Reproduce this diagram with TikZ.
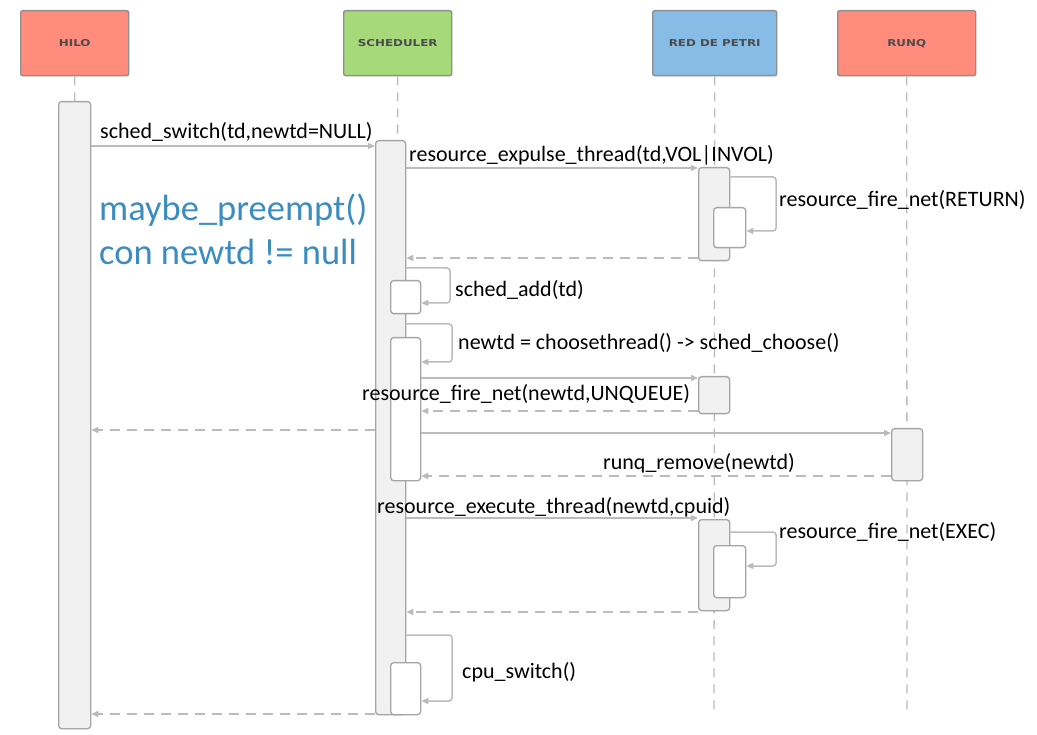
\documentclass[tikz,border=0pt]{standalone}
\usepackage{fontspec}
\setmainfont{Carlito}
\newfontfamily\headfont[FakeStretch=1.25]{DejaVu Sans}
\usetikzlibrary{arrows.meta,calc}
\definecolor{salmon}{HTML}{FF8C7C}
\definecolor{grn}{HTML}{A5D97A}
\definecolor{blu}{HTML}{86BCE5}
\definecolor{actfill}{HTML}{F1F1F1}
\definecolor{linegray}{HTML}{BBBBBB}
\definecolor{bordergray}{HTML}{8F8F8F}
\definecolor{bigblue}{HTML}{3B8DC0}
\tikzset{
  x=1pt, y=-1pt,
  head/.style={draw=bordergray, line width=1.4pt, rounded corners=2pt, anchor=north west, inner sep=0pt, font=\headfont\bfseries\fontsize{9.5}{10}\selectfont, text=black!70},
  lifeline/.style={draw=linegray, line width=1.3pt, dash pattern=on 9pt off 7pt},
  actbox/.style={draw=bordergray!80, fill=actfill, line width=1.3pt, rounded corners=3pt, anchor=north west, inner sep=0pt, minimum width=31pt},
  subbox/.style={actbox, fill=white},
  tip/.style={-{Triangle[length=7pt,width=6pt]}},
  msg/.style={draw=linegray, line width=1.5pt, tip},
  ret/.style={draw=linegray, line width=1.5pt, tip, dash pattern=on 10pt off 7pt},
  self/.style={draw=linegray, line width=1.5pt, tip, rounded corners=3pt},
  lbl/.style={anchor=west, inner sep=0pt, font=\fontsize{22}{24}\selectfont, text=black},
  big/.style={anchor=west, inner sep=0pt, font=\fontsize{36.5}{40}\selectfont, text=bigblue},
}
\begin{document}
\begin{tikzpicture}
\useasboundingbox (0,0) rectangle (1037,735);
% headers
\node[head, fill=salmon, minimum width=108pt, minimum height=65pt] (hilo) at (20,10) {HILO};
\node[head, fill=grn, minimum width=108pt, minimum height=65pt] (sched) at (343,10) {SCHEDULER};
\node[head, fill=blu, minimum width=124pt, minimum height=65pt] (petri) at (652,10) {RED DE PETRI};
\node[head, fill=salmon, minimum width=138pt, minimum height=65pt] (runq) at (837,10) {RUNQ};
% lifelines
\coordinate (hend) at (74,710);
\coordinate (send) at (397,710);
\coordinate (pend) at (714,710);
\coordinate (rend) at (907,710);
\draw[lifeline] (hilo.south) -- (hend);
\draw[lifeline] (sched.south) -- (send);
\draw[lifeline] (petri.south) -- (pend);
\draw[lifeline] (runq.south) -- (rend);
% activations
\node[actbox, minimum width=32pt, minimum height=627pt] (hA) at (58,101) {};
\node[actbox, minimum width=30pt, minimum height=574pt] (sA) at (375,140) {};
\node[subbox, minimum width=30pt, minimum height=33pt] (sB1) at (390,280) {};
\node[subbox, minimum width=30pt, minimum height=143pt] (sB2) at (390,337) {};
\node[subbox, minimum width=30pt, minimum height=52pt] (sB3) at (390,662) {};
\node[actbox, minimum height=93pt] (pA1) at (698,167) {};
\node[subbox, minimum width=32pt, minimum height=40pt] (pN1) at (713,207) {};
\node[actbox, minimum height=37pt] (pA2) at (698,376) {};
\node[actbox, minimum height=91pt] (pA3) at (698,519) {};
\node[subbox, minimum width=32pt, minimum height=52pt] (pN3) at (713,545) {};
\node[actbox, minimum height=52pt] (rA) at (891,428) {};
% messages
\draw[msg] (hA.east |- 0,146) -- (sA.west |- 0,146);
\node[lbl] (l1) at (100,132) {sched\_switch(td,newtd=NULL)};
\draw[msg] (sA.east |- 0,168) -- (pA1.west |- 0,168);
\node[lbl] (l2) at (409,155) {resource\_expulse\_thread(td,VOL|INVOL)};
\draw[self] (pA1.east |- 0,177) -- (776,177) -- (776,231) -- (pN1.east |- 0,231);
\node[lbl] (l3) at (779,200) {resource\_fire\_net(RETURN)};
\draw[ret] (pA1.west |- 0,258) -- (sA.east |- 0,258);
\node[big] (b1) at (99,210) {maybe\_preempt()};
\node[big] (b2) at (99,252) {con newtd != null};
\draw[self] (sA.east |- 0,268) -- (450,268) -- (450,303) -- (sB1.east |- 0,303);
\node[lbl] (l4) at (455,290) {sched\_add(td)};
\draw[self] (sA.east |- 0,324) -- (452,324) -- (452,362) -- (sB2.east |- 0,362);
\node[lbl] (l5) at (458,343) {newtd = choosethread() -> sched\_choose()};
\draw[msg] (sB2.east |- 0,378) -- (pA2.west |- 0,378);
\draw[ret] (pA2.west |- 0,411) -- (sB2.east |- 0,411);
\node[lbl] (l6) at (362,394) {resource\_fire\_net(newtd,UNQUEUE)};
\draw[ret] (sA.west |- 0,430) -- (hA.east |- 0,430);
\draw[msg] (sB2.east |- 0,433) -- (rA.west |- 0,433);
\draw[ret] (rA.west |- 0,476) -- (sB2.east |- 0,476);
\node[lbl] (l7) at (603,463) {runq\_remove(newtd)};
\draw[msg] (sA.east |- 0,518) -- (pA3.west |- 0,518);
\node[lbl] (l8) at (377,507) {resource\_execute\_thread(newtd,cpuid)};
\draw[self] (pA3.east |- 0,532) -- (776,532) -- (776,566) -- (pN3.east |- 0,566);
\node[lbl] (l9) at (779,532) {resource\_fire\_net(EXEC)};
\draw[ret] (pA3.west |- 0,612) -- (sA.east |- 0,612);
\draw[self] (sA.east |- 0,635) -- (452,635) -- (452,701) -- (sB3.east |- 0,701);
\node[lbl] (l10) at (462,672) {cpu\_switch()};
\draw[ret] (sA.west |- 0,714) -- (hA.east |- 0,714);
\end{tikzpicture}
\end{document}
